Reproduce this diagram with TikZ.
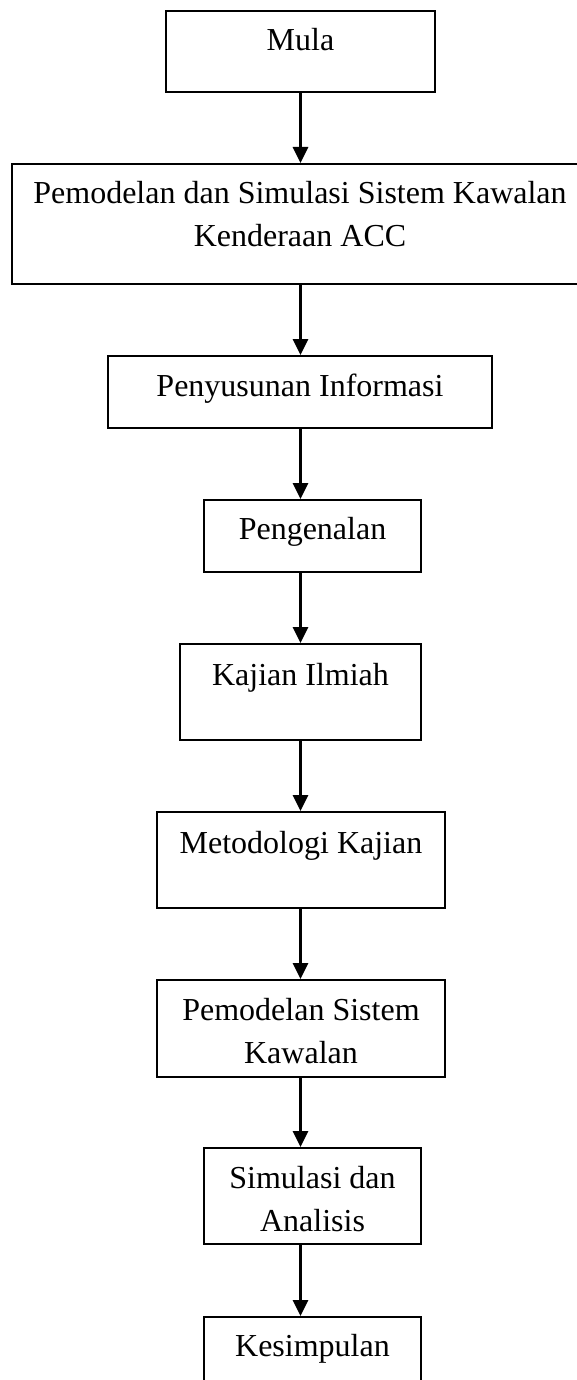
\documentclass[tikz,border=0pt]{standalone}
\usepackage{fontspec}
\setmainfont{Liberation Serif}
\usepackage{tikz}
\usetikzlibrary{arrows.meta, positioning}

\begin{document}
\begin{tikzpicture}[x=0.5pt, y=-0.5pt,
    box/.style={draw, line width=1pt, rectangle, anchor=north, inner sep=0pt,
      align=center, font=\fontsize{16pt}{21.5pt}\selectfont},
    arrow/.style={line width=1.5pt, -{Triangle[width=7.5pt, length=8pt]}}]
  \useasboundingbox (0,0) rectangle (577,1380);
  \clip (0,0) rectangle (577,1380);

  % boxes
  \node[box, minimum width=134.5pt, text height=20pt, text depth=20.5pt] (mula) at (300.5,10) {Mula};
  \node[box, minimum width=288pt, text height=41.5pt, text depth=18.5pt] (acc) at (300,163)
    {Pemodelan dan Simulasi Sistem Kawalan\\Kenderaan ACC};
  \node[box, minimum width=192pt, text height=20pt, text depth=16pt] (susun) at (300,355) {Penyusunan Informasi};
  \node[box, minimum width=108.5pt, text height=19.5pt, text depth=16.5pt] (kenal) at (312.5,499) {Pengenalan};
  \node[box, minimum width=120.5pt, text height=20.5pt, text depth=27.5pt] (kajian) at (300.5,643) {Kajian Ilmiah};
  \node[box, minimum width=144pt, text height=20.5pt, text depth=27.5pt] (metod) at (301,811) {Metodologi Kajian};
  \node[box, minimum width=144pt, text height=41.5pt, text depth=7pt] (sistem) at (301,979)
    {Pemodelan Sistem\\Kawalan};
  \node[box, minimum width=108.5pt, text height=41.5pt, text depth=6.5pt] (simul) at (312.5,1147)
    {Simulasi dan\\Analisis};
  \node[box, minimum width=108.5pt, text height=19.5pt, text depth=28.5pt] (simpul) at (312.5,1316) {Kesimpulan};

  % arrows
  \foreach \a/\b in {mula/acc, acc/susun, susun/kenal, kenal/kajian, kajian/metod,
      metod/sistem, sistem/simul, simul/simpul}{
    \draw[arrow] (\a.south -| mula.south) -- (\b.north -| mula.south);
  }
\end{tikzpicture}
\end{document}
